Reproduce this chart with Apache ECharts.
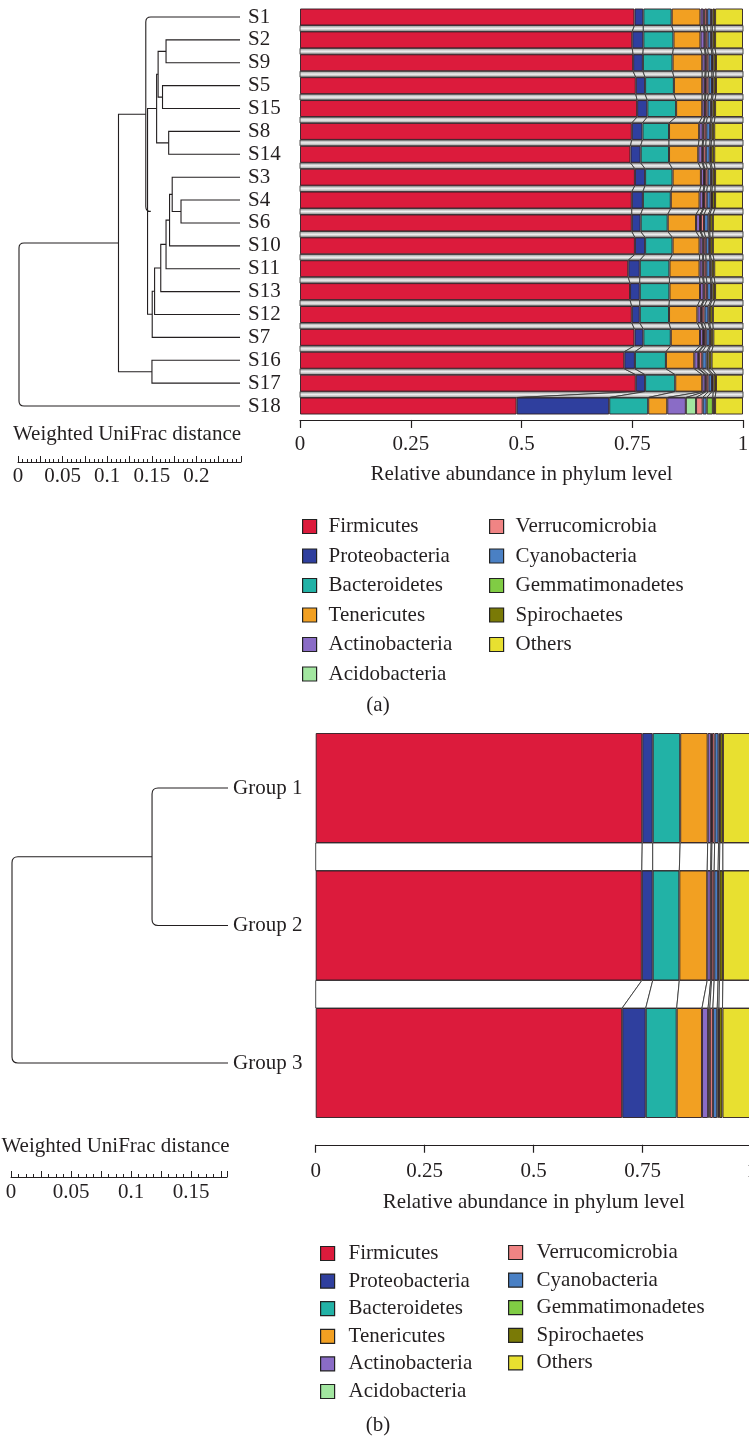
<!DOCTYPE html>
<html><head><meta charset="utf-8">
<script src="https://cdn.jsdelivr.net/npm/echarts@6/dist/echarts.min.js"></script>
<style>html,body{margin:0;padding:0;background:#fff}#c{width:749px;height:1437px}</style>
</head><body><div id="c"></div>
<script>
// ---------- DATA ----------
const phyla = ['Firmicutes','Proteobacteria','Bacteroidetes','Tenericutes','Actinobacteria','Acidobacteria','Verrucomicrobia','Cyanobacteria','Gemmatimonadetes','Spirochaetes','Others'];
const phylaCol1 = ['Firmicutes','Proteobacteria','Bacteroidetes','Tenericutes','Actinobacteria','Acidobacteria'];
const phylaCol2 = ['Verrucomicrobia','Cyanobacteria','Gemmatimonadetes','Spirochaetes','Others'];

// (a) samples, top to bottom
const samples = ['S1','S2','S9','S5','S15','S8','S14','S3','S4','S6','S10','S11','S13','S12','S7','S16','S17','S18'];
const firmicutesA       = [0.755,0.750,0.752,0.758,0.761,0.749,0.746,0.756,0.749,0.749,0.756,0.741,0.745,0.749,0.755,0.732,0.758,0.489];
const proteobacteriaA   = [0.020,0.025,0.022,0.021,0.023,0.024,0.023,0.023,0.025,0.020,0.023,0.026,0.022,0.018,0.020,0.024,0.021,0.209];
const bacteroidetesA    = [0.064,0.068,0.067,0.065,0.065,0.060,0.064,0.062,0.063,0.061,0.062,0.067,0.067,0.066,0.062,0.070,0.068,0.088];
const tenericutesA      = [0.065,0.061,0.067,0.064,0.059,0.068,0.066,0.064,0.065,0.064,0.061,0.068,0.069,0.064,0.066,0.064,0.061,0.043];
const actinobacteriaA   = [0.007,0.009,0.007,0.006,0.006,0.008,0.009,0.007,0.008,0.009,0.007,0.007,0.008,0.008,0.007,0.009,0.007,0.042];
const acidobacteriaA    = [0.002,0.002,0.002,0.002,0.001,0.002,0.002,0.002,0.002,0.002,0.002,0.002,0.002,0.002,0.002,0.002,0.002,0.023];
const verrucomicrobiaA  = [0.006,0.005,0.005,0.006,0.005,0.006,0.006,0.006,0.006,0.007,0.005,0.006,0.006,0.006,0.005,0.007,0.005,0.015];
const cyanobacteriaA    = [0.009,0.008,0.008,0.008,0.008,0.009,0.009,0.008,0.009,0.010,0.008,0.009,0.009,0.009,0.008,0.010,0.008,0.009];
const gemmatimonadetesA = [0.003,0.003,0.003,0.003,0.003,0.003,0.003,0.003,0.003,0.003,0.002,0.003,0.003,0.003,0.002,0.004,0.003,0.014];
const spirochaetesA     = [0.006,0.006,0.006,0.006,0.006,0.006,0.007,0.006,0.007,0.007,0.006,0.006,0.006,0.007,0.006,0.007,0.006,0.005];
const othersA           = [0.063,0.063,0.061,0.061,0.063,0.065,0.065,0.063,0.063,0.068,0.068,0.065,0.063,0.068,0.067,0.071,0.061,0.063];

// (b) groups
const groups = ['Group 1','Group 2','Group 3'];
const firmicutesB       = [0.749,0.748,0.703];
const proteobacteriaB   = [0.024,0.025,0.054];
const bacteroidetesB    = [0.063,0.061,0.071];
const tenericutesB      = [0.063,0.064,0.058];
const actinobacteriaB   = [0.008,0.008,0.014];
const acidobacteriaB    = [0.002,0.002,0.004];
const verrucomicrobiaB  = [0.006,0.006,0.007];
const cyanobacteriaB    = [0.009,0.009,0.010];
const gemmatimonadetesB = [0.003,0.003,0.004];
const spirochaetesB     = [0.007,0.008,0.008];
const othersB           = [0.066,0.066,0.067];

// dendrograms: [childA, childB, height]; internal nodes named n<index>
const treeA = [
  ['S4','S6',0.067],['S3','n0',0.077],['n1','S10',0.080],['n2','S11',0.084],
  ['n3','S13',0.090],['n4','S12',0.097],['n5','S7',0.0997],
  ['S2','S9',0.084],['S5','S15',0.088],['S8','S14',0.081],
  ['n7','n8',0.093],['n10','n9',0.0947],['n11','n6',0.105],
  ['S1','n12',0.107],['S16','S17',0.100],['n13','n14',0.138],['n15','S18',0.251]
];
const treeB = [['Group 1','Group 2',0.0633],['n0','Group 3',0.18]];
const roundedA = [13,16];
const roundedB = [0,1];

// scale bar extents
const scaleMaxA = 0.25, scaleMaxB = 0.18;

// ---------- STYLE ----------
const colors = ['#DC1B3C','#2F3F9E','#22B2A6','#F2A022','#8A6CC6','#A2E6A0','#F08484','#4A80C4','#80CC44','#7A7A06','#E8E030'];
const FONT = 'Liberation Serif';
const FS = 21;
const TXT = '#231f20';
const phylumArraysA = [firmicutesA,proteobacteriaA,bacteroidetesA,tenericutesA,actinobacteriaA,acidobacteriaA,verrucomicrobiaA,cyanobacteriaA,gemmatimonadetesA,spirochaetesA,othersA];
const phylumArraysB = [firmicutesB,proteobacteriaB,bacteroidetesB,tenericutesB,actinobacteriaB,acidobacteriaB,verrucomicrobiaB,cyanobacteriaB,gemmatimonadetesB,spirochaetesB,othersB];

function buildLinks(arrs, n){
  const cum = [];
  for (let r=0;r<n;r++){ let s=0; const row=[]; arrs.forEach(a=>{row.push(s); s+=a[r];}); cum.push(row); }
  const out=[];
  for (let r=0;r<n-1;r++) arrs.forEach((a,k)=>{
    out.push([cum[r][k], cum[r][k]+a[r], cum[r+1][k], cum[r+1][k]+a[r+1], r, r+1]);
  });
  return out;
}
function buildTree(leaves, merges){
  const pos={}; leaves.forEach((n,i)=>pos[n]={h:0,y:i});
  return merges.map((m,i)=>{
    const a=pos[m[0]], b=pos[m[1]];
    const node={h:m[2], y:(a.y+b.y)/2}; pos['n'+i]=node;
    return [node.h,node.y,a.h,a.y,b.h,b.y,i];
  });
}
function linkRender(half, fill, stroke, lw){
  return function(params, api){
    const a=api.coord([api.value(0),api.value(4)]), b=api.coord([api.value(1),api.value(4)]);
    const c=api.coord([api.value(3),api.value(5)]), d=api.coord([api.value(2),api.value(5)]);
    return {type:'polygon', shape:{points:[[a[0],a[1]+half],[b[0],b[1]+half],[c[0],c[1]-half],[d[0],d[1]-half]]},
      style:{fill:fill, stroke:stroke, lineWidth:lw}};
  };
}
function treeRender(roundSet, r){
  return function(params, api){
    const n=api.coord([api.value(0),api.value(1)]);
    const a=api.coord([api.value(2),api.value(3)]);
    const b=api.coord([api.value(4),api.value(5)]);
    const xN=n[0]; let d;
    if (roundSet.indexOf(api.value(6))>=0){
      const s=b[1]>a[1]?1:-1;
      d='M'+a[0]+' '+a[1]+' L'+(xN+r)+' '+a[1]+' Q'+xN+' '+a[1]+' '+xN+' '+(a[1]+s*r)+
        ' L'+xN+' '+(b[1]-s*r)+' Q'+xN+' '+b[1]+' '+(xN+r)+' '+b[1]+' L'+b[0]+' '+b[1];
    } else {
      d='M'+a[0]+' '+a[1]+' L'+xN+' '+a[1]+' L'+xN+' '+b[1]+' L'+b[0]+' '+b[1];
    }
    return {type:'path', shape:{pathData:d}, style:{fill:null, stroke:TXT, lineWidth:1.1}};
  };
}

const chart = echarts.init(document.getElementById('c'), null, {renderer:'canvas'});
const greyGrad = new echarts.graphic.LinearGradient(0,0,0,1,[
  {offset:0,color:'#858585'},{offset:0.5,color:'#f0f0f0'},{offset:1,color:'#858585'}]);

const series = [];
phyla.forEach((p,k)=>{
  series.push({type:'bar', name:p, xAxisIndex:0, yAxisIndex:0, stack:'A', barWidth:17, z:3,
    data:phylumArraysA[k], itemStyle:{color:colors[k], borderColor:'rgba(45,30,35,0.9)', borderWidth:1},
    emphasis:{disabled:true}, animation:false});
});
phyla.forEach((p,k)=>{
  series.push({type:'bar', name:p, xAxisIndex:3, yAxisIndex:4, stack:'B', barWidth:110, z:3,
    data:phylumArraysB[k], itemStyle:{color:colors[k], borderColor:'rgba(45,30,35,0.9)', borderWidth:1},
    emphasis:{disabled:true}, animation:false});
});
series.push({type:'custom', xAxisIndex:0, yAxisIndex:0, z:1, silent:true, animation:false,
  renderItem:linkRender(8.5, greyGrad, '#3a3a3a', 0.9),
  encode:{x:[0,1,2,3], y:[4,5]}, data:buildLinks(phylumArraysA, samples.length)});
series.push({type:'custom', xAxisIndex:3, yAxisIndex:4, z:1, silent:true, animation:false,
  renderItem:linkRender(55, '#ffffff', '#3a3a3a', 0.9),
  encode:{x:[0,1,2,3], y:[4,5]}, data:buildLinks(phylumArraysB, groups.length)});
series.push({type:'custom', xAxisIndex:1, yAxisIndex:1, silent:true, animation:false,
  renderItem:treeRender(roundedA, 5), encode:{x:[0,2,4], y:[1,3,5]}, data:buildTree(samples, treeA)});
series.push({type:'custom', xAxisIndex:4, yAxisIndex:5, silent:true, animation:false,
  renderItem:treeRender(roundedB, 6), encode:{x:[0,2,4], y:[1,3,5]}, data:buildTree(groups, treeB)});

const axisTxt = {fontFamily:FONT, fontSize:FS, color:TXT};
function scaleLabel(max){
  return function(v){
    const k=Math.round(v*1000);
    if (k%50!==0 || v>max-0.01) return '';
    return String(Math.round(v*100)/100);
  };
}
function legendData(names){ return names.map(n=>({name:n})); }
const legendCommon = {orient:'vertical', itemWidth:14, itemHeight:14, icon:'rect', selectedMode:false,
  itemStyle:{borderColor:'#222', borderWidth:1.2}};
const gridCommon = {outerBoundsMode:'none', containLabel:false};

chart.setOption({
  animation:false,
  backgroundColor:'#fff',
  textStyle:{fontFamily:FONT, color:TXT},
  grid:[
    Object.assign({left:300, width:443, top:5.56, height:411.9}, gridCommon),
    Object.assign({left:19, width:221, top:5.56, height:411.9}, gridCommon),
    Object.assign({left:18, width:223, top:440, height:22}, gridCommon),
    Object.assign({left:315.7, width:436, top:719.25, height:412.5}, gridCommon),
    Object.assign({left:12, width:216, top:719.25, height:412.5}, gridCommon),
    Object.assign({left:11, width:216, top:1155, height:22}, gridCommon)
  ],
  xAxis:[
    {gridIndex:0, type:'value', min:0, max:1, interval:0.25, offset:2.5,
     axisLine:{show:true, lineStyle:{color:TXT, width:1.2}}, axisTick:{show:true, length:8, lineStyle:{color:TXT, width:1.2}},
     splitLine:{show:false}, axisLabel:Object.assign({margin:14}, axisTxt),
     name:'Relative abundance in phylum level', nameLocation:'middle', nameGap:44, nameTextStyle:axisTxt},
    {gridIndex:1, type:'value', min:0, max:0.251, inverse:true, show:false},
    {gridIndex:2, type:'value', min:0, max:scaleMaxA, interval:0.025,
     axisLine:{show:true, lineStyle:{color:TXT, width:1}},
     axisTick:{show:true, inside:true, length:6, lineStyle:{color:TXT}},
     minorTick:{show:true, splitNumber:5, length:3, lineStyle:{color:TXT}},
     splitLine:{show:false}, minorSplitLine:{show:false},
     axisLabel:Object.assign({margin:4, formatter:scaleLabel(scaleMaxA), showMaxLabel:true, showMinLabel:true, hideOverlap:false}, axisTxt)},
    {gridIndex:3, type:'value', min:0, max:1, interval:0.25, offset:13,
     axisLine:{show:true, lineStyle:{color:TXT, width:1.2}}, axisTick:{show:true, length:8, lineStyle:{color:TXT, width:1.2}},
     splitLine:{show:false}, axisLabel:Object.assign({margin:16}, axisTxt),
     name:'Relative abundance in phylum level', nameLocation:'middle', nameGap:47, nameTextStyle:axisTxt},
    {gridIndex:4, type:'value', min:0, max:scaleMaxB, inverse:true, show:false},
    {gridIndex:5, type:'value', min:0, max:scaleMaxB, interval:0.025,
     axisLine:{show:true, lineStyle:{color:TXT, width:1}},
     axisTick:{show:true, inside:true, length:6, lineStyle:{color:TXT}},
     minorTick:{show:true, splitNumber:4, length:3, lineStyle:{color:TXT}},
     splitLine:{show:false}, minorSplitLine:{show:false},
     axisLabel:Object.assign({margin:5, formatter:scaleLabel(scaleMaxB), showMaxLabel:true, showMinLabel:true, hideOverlap:false}, axisTxt)}
  ],
  yAxis:[
    {gridIndex:0, type:'category', data:samples, inverse:true, show:false},
    {gridIndex:1, type:'value', min:-0.5, max:samples.length-0.5, inverse:true, show:false},
    {gridIndex:1, type:'category', data:samples, inverse:true, position:'right',
     axisLine:{show:false}, axisTick:{show:false}, splitLine:{show:false},
     axisLabel:Object.assign({margin:8, align:'left', interval:0, hideOverlap:false}, axisTxt)},
    {gridIndex:2, type:'value', show:false},
    {gridIndex:3, type:'category', data:groups, inverse:true, show:false},
    {gridIndex:4, type:'value', min:-0.5, max:groups.length-0.5, inverse:true, show:false},
    {gridIndex:4, type:'category', data:groups, inverse:true, position:'right',
     axisLine:{show:false}, axisTick:{show:false}, splitLine:{show:false},
     axisLabel:Object.assign({margin:5, align:'left', interval:0}, axisTxt)},
    {gridIndex:5, type:'value', show:false}
  ],
  legend:[
    Object.assign({left:297, top:511, itemGap:8.5, data:legendData(phylaCol1),
      textStyle:{fontFamily:FONT, fontSize:FS, lineHeight:21, color:TXT, padding:[0,0,0,7]}}, legendCommon),
    Object.assign({left:484, top:511, itemGap:8.5, data:legendData(phylaCol2),
      textStyle:{fontFamily:FONT, fontSize:FS, lineHeight:21, color:TXT, padding:[0,0,0,7]}}, legendCommon),
    Object.assign({left:315, top:1238, itemGap:6.6, data:legendData(phylaCol1),
      textStyle:{fontFamily:FONT, fontSize:FS, lineHeight:21, color:TXT, padding:[0,0,0,9]}}, legendCommon),
    Object.assign({left:503, top:1237, itemGap:6.6, data:legendData(phylaCol2),
      textStyle:{fontFamily:FONT, fontSize:FS, lineHeight:21, color:TXT, padding:[0,0,0,9]}}, legendCommon)
  ],
  graphic:[
    {type:'text', x:127, y:434, style:{text:'Weighted UniFrac distance', font:FS+'px "Liberation Serif"', fill:TXT, textAlign:'center', textVerticalAlign:'middle'}},
    {type:'text', x:115.5, y:1146, style:{text:'Weighted UniFrac distance', font:FS+'px "Liberation Serif"', fill:TXT, textAlign:'center', textVerticalAlign:'middle'}},
    {type:'text', x:378, y:705, style:{text:'(a)', font:FS+'px "Liberation Serif"', fill:TXT, textAlign:'center', textVerticalAlign:'middle'}},
    {type:'text', x:378, y:1425, style:{text:'(b)', font:FS+'px "Liberation Serif"', fill:TXT, textAlign:'center', textVerticalAlign:'middle'}}
  ],
  series:series
});
</script></body></html>
